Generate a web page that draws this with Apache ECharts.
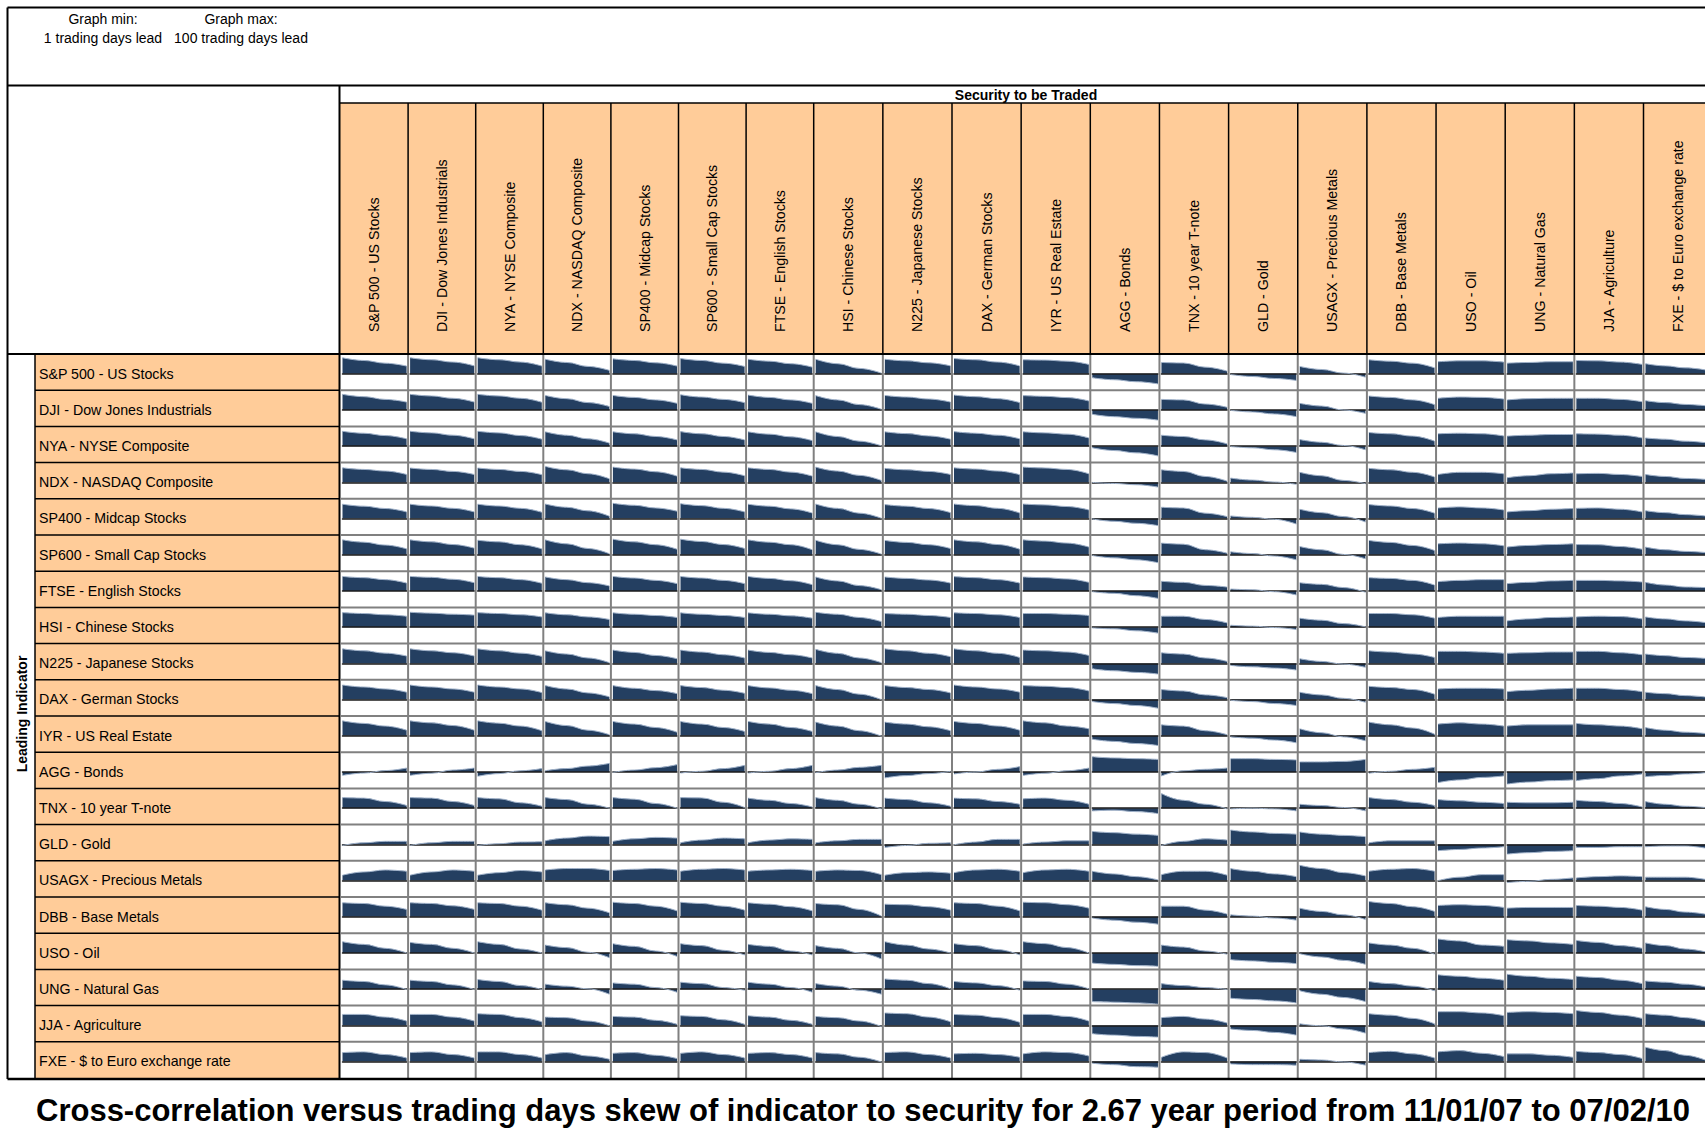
<!DOCTYPE html>
<html>
<head>
<meta charset="utf-8">
<title>Cross-correlation matrix</title>
<script src="https://cdn.jsdelivr.net/npm/echarts@6/dist/echarts.min.js"></script>
<style>
  html, body { margin: 0; padding: 0; background: #fff; }
  #box { width: 1705px; height: 1137px; }
</style>
</head>
<body>
<div id="box"></div>
<script>
// lead (trading days) at which each correlation was read
var lags = [1, 34, 67, 100];

var securities = ['S&P 500 - US Stocks', 'DJI - Dow Jones Industrials', 'NYA - NYSE Composite', 'NDX - NASDAQ Composite',
  'SP400 - Midcap Stocks', 'SP600 - Small Cap Stocks', 'FTSE - English Stocks', 'HSI - Chinese Stocks',
  'N225 - Japanese Stocks', 'DAX - German Stocks', 'IYR - US Real Estate', 'AGG - Bonds', 'TNX - 10 year T-note',
  'GLD - Gold', 'USAGX - Precious Metals', 'DBB - Base Metals', 'USO - Oil', 'UNG - Natural Gas',
  'JJA - Agriculture', 'FXE - $ to Euro exchange rate'];
var indicators = securities.slice();

// one row per leading indicator, one cell per traded security: correlation at each lag
var rowSPX = [[.89,.74,.59,.43],[.89,.78,.65,.44],[.89,.78,.65,.43],[.81,.63,.41,.19],[.83,.74,.61,.43],[.85,.74,.59,.41],[.81,.70,.56,.37],
  [.81,.56,.30,.04],[.81,.72,.61,.44],[.85,.78,.65,.44],[.78,.76,.70,.52],[-.22,-.33,-.44,-.56],[.63,.60,.37,.15],[-.04,-.15,-.26,-.37],
  [.41,.24,.04,-.19],[.78,.70,.59,.33],[.67,.72,.72,.65],[.59,.63,.67,.67],[.74,.72,.65,.52],[.56,.44,.33,.22]];
var rowDJI = [[.87,.74,.59,.44],[.87,.78,.65,.44],[.87,.78,.65,.43],[.81,.63,.41,.19],[.81,.70,.56,.37],[.85,.72,.59,.41],[.83,.70,.56,.37],
  [.80,.56,.30,.04],[.81,.72,.61,.44],[.83,.74,.63,.41],[.80,.76,.69,.50],[-.24,-.37,-.46,-.56],[.59,.56,.33,.15],[-.02,-.11,-.22,-.37],
  [.37,.22,0,-.19],[.78,.70,.56,.30],[.65,.72,.70,.61],[.56,.63,.65,.65],[.65,.65,.59,.46],[.52,.41,.31,.24]];
var rowNYA = [[.83,.72,.59,.41],[.83,.74,.61,.41],[.83,.74,.59,.39],[.80,.61,.41,.17],[.80,.69,.54,.35],[.81,.69,.54,.35],[.80,.67,.52,.31],
  [.80,.54,.28,.02],[.80,.70,.57,.39],[.81,.72,.61,.41],[.80,.74,.67,.46],[-.09,-.24,-.37,-.54],[.61,.54,.35,.13],[-.02,-.09,-.20,-.35],
  [.37,.22,.04,-.20],[.76,.69,.56,.28],[.69,.72,.69,.57],[.56,.61,.65,.65],[.69,.67,.61,.46],[.46,.39,.28,.20]];
var rowNDX = [[.81,.72,.63,.44],[.80,.72,.61,.44],[.80,.72,.61,.43],[.89,.70,.48,.20],[.85,.74,.59,.35],[.81,.72,.57,.37],[.81,.72,.57,.35],
  [.85,.63,.39,.11],[.78,.70,.61,.44],[.81,.74,.63,.43],[.85,.80,.72,.48],[0,-.06,-.13,-.26],[.70,.61,.33,.07],[.24,.13,.02,-.11],
  [.56,.37,.11,-.07],[.78,.70,.56,.30],[.44,.56,.56,.48],[.26,.37,.48,.52],[.48,.50,.44,.33],[.44,.33,.22,.17]];
var rowSP400 = [[.80,.69,.56,.37],[.80,.70,.57,.37],[.80,.70,.57,.35],[.81,.63,.43,.13],[.85,.74,.59,.41],[.83,.72,.57,.37],[.80,.69,.54,.31],
  [.81,.57,.30,.02],[.78,.69,.56,.33],[.81,.72,.57,.31],[.81,.76,.67,.48],[-.02,-.15,-.26,-.39],[.63,.59,.30,.11],[.15,.07,-.04,-.30],
  [.52,.33,.11,-.19],[.78,.70,.56,.30],[.59,.65,.59,.48],[.37,.44,.52,.56],[.57,.59,.52,.37],[.44,.33,.22,.15]];
var rowSP600 = [[.83,.70,.54,.33],[.83,.72,.57,.37],[.81,.72,.56,.33],[.83,.61,.35,.06],[.87,.72,.56,.31],[.87,.74,.57,.35],[.83,.70,.56,.28],
  [.81,.56,.30,.04],[.80,.69,.56,.35],[.83,.72,.57,.31],[.83,.76,.65,.43],[-.04,-.17,-.28,-.44],[.65,.59,.28,.09],[.17,.07,-.07,-.28],
  [.46,.28,.02,-.22],[.80,.69,.52,.24],[.61,.65,.61,.50],[.43,.52,.57,.61],[.57,.56,.46,.31],[.43,.28,.19,.13]];
var rowFTSE = [[.81,.74,.63,.44],[.81,.76,.65,.46],[.81,.74,.63,.43],[.78,.63,.46,.28],[.81,.72,.59,.41],[.81,.72,.59,.41],[.81,.70,.57,.35],
  [.78,.56,.30,.07],[.78,.70,.61,.44],[.80,.74,.63,.44],[.78,.74,.67,.48],[-.04,-.13,-.26,-.41],[.54,.48,.31,.22],[.11,.07,-.04,-.22],
  [.46,.37,.19,-.07],[.74,.70,.59,.33],[.52,.59,.63,.63],[.41,.48,.56,.59],[.59,.59,.56,.50],[.48,.33,.22,.19]];
var rowHSI = [[.81,.76,.69,.61],[.83,.78,.72,.67],[.81,.76,.69,.57],[.80,.69,.57,.43],[.80,.72,.65,.54],[.80,.72,.65,.54],[.80,.72,.63,.50],
  [.83,.72,.54,.31],[.76,.72,.65,.54],[.80,.76,.69,.54],[.76,.76,.72,.65],[-.04,-.09,-.20,-.33],[.61,.61,.43,.24],[.11,.06,-.02,-.13],
  [.50,.39,.20,.02],[.76,.76,.69,.50],[.54,.61,.61,.61],[.35,.46,.54,.57],[.57,.61,.59,.46],[.57,.46,.35,.26]];
var rowN225 = [[.81,.70,.57,.41],[.81,.70,.59,.41],[.81,.70,.57,.39],[.70,.52,.30,.04],[.74,.61,.44,.26],[.74,.63,.48,.30],[.74,.61,.48,.30],
  [.78,.56,.30,.04],[.81,.70,.56,.37],[.81,.70,.56,.33],[.74,.70,.63,.44],[-.30,-.41,-.50,-.59],[.59,.52,.30,.11],[-.11,-.19,-.26,-.37],
  [.26,.11,-.04,-.22],[.70,.63,.52,.33],[.67,.67,.63,.56],[.56,.59,.63,.63],[.67,.67,.59,.48],[.52,.43,.33,.28]];
var rowDAX = [[.81,.70,.59,.41],[.81,.70,.59,.41],[.81,.70,.59,.39],[.78,.59,.37,.15],[.78,.63,.50,.33],[.78,.67,.52,.35],[.78,.65,.52,.33],
  [.78,.56,.30,0],[.78,.67,.56,.37],[.81,.70,.59,.41],[.78,.74,.67,.48],[-.11,-.22,-.33,-.48],[.56,.48,.26,.11],[-.04,-.11,-.22,-.33],
  [.41,.26,.07,-.15],[.74,.67,.56,.30],[.59,.63,.63,.59],[.44,.52,.59,.63],[.63,.63,.56,.44],[.41,.33,.22,.15]];
var rowIYR = [[.83,.69,.54,.31],[.83,.72,.57,.31],[.83,.70,.54,.28],[.80,.57,.31,.06],[.80,.65,.46,.20],[.80,.65,.46,.24],[.80,.65,.46,.24],
  [.76,.54,.28,-.02],[.76,.65,.50,.28],[.80,.69,.54,.31],[.83,.72,.54,.39],[-.19,-.31,-.43,-.54],[.61,.54,.28,.06],[-.06,-.13,-.24,-.39],
  [.39,.17,-.06,-.28],[.76,.61,.43,.09],[.65,.72,.65,.54],[.54,.61,.61,.61],[.69,.61,.54,.39],[.46,.31,.20,.13]];
var rowAGG = [[-.19,-.06,.08,.22],[-.19,-.07,.11,.22],[-.24,-.09,.07,.19],[.07,.19,.33,.48],[-.02,.11,.24,.41],[-.06,.04,.19,.37],[-.06,.04,.19,.37],
  [-.04,.11,.26,.37],[-.33,-.20,-.09,.04],[-.11,0,.15,.30],[-.19,-.07,.07,.22],[.85,.78,.74,.70],[-.22,.07,.15,.22],[.74,.74,.70,.67],
  [.56,.56,.59,.70],[-.07,.04,.15,.26],[-.59,-.44,-.30,-.22],[-.67,-.56,-.48,-.44],[-.48,-.37,-.22,-.11],[-.26,-.19,-.11,-.04]];
var rowTNX = [[.59,.56,.37,.15],[.59,.56,.37,.15],[.59,.52,.30,.11],[.59,.48,.22,0],[.59,.50,.26,0],[.59,.57,.33,.04],[.56,.44,.26,.07],
  [.59,.44,.22,-.04],[.56,.48,.30,.11],[.56,.52,.37,.22],[.52,.56,.44,.22],[-.15,-.11,-.19,-.30],[.81,.44,.22,-.04],[-.04,0,-.04,-.15],
  [.22,.15,.04,-.15],[.59,.48,.33,.15],[.48,.41,.33,.26],[.33,.30,.30,.33],[.44,.37,.26,.07],[.37,.22,.11,.04]];
var rowGLD = [[-.06,.09,.17,.17],[-.06,.09,.17,.17],[-.06,.04,.13,.15],[.20,.35,.46,.43],[.17,.31,.39,.35],[.09,.24,.35,.31],[.09,.24,.31,.28],
  [.09,.20,.28,.28],[-.17,-.06,.06,.09],[-.02,.13,.28,.28],[.02,.13,.20,.20],[.72,.65,.57,.50],[-.06,.17,.31,.24],[.80,.69,.61,.57],
  [.69,.57,.50,.43],[.09,.20,.20,.20],[-.35,-.28,-.20,-.13],[-.54,-.46,-.39,-.35],[-.17,-.17,-.13,-.13],[-.13,-.09,-.09,-.20]];
var rowUSAGX = [[.30,.48,.59,.52],[.30,.48,.59,.52],[.30,.44,.56,.48],[.59,.67,.67,.56],[.56,.63,.67,.59],[.52,.63,.67,.59],[.52,.59,.63,.56],
  [.52,.59,.56,.33],[.30,.44,.48,.41],[.44,.59,.63,.52],[.44,.59,.63,.52],[.52,.37,.22,.04],[.33,.52,.52,.30],[.67,.52,.37,.22],
  [.85,.67,.44,.26],[.52,.63,.67,.52],[0,.19,.33,.33],[-.11,-.04,.07,.15],[.15,.22,.26,.22],[.19,.19,.19,.07]];
var rowDBB = [[.78,.74,.59,.41],[.78,.74,.61,.41],[.78,.74,.59,.37],[.78,.67,.48,.22],[.81,.74,.59,.33],[.81,.74,.59,.37],[.78,.70,.56,.33],
  [.74,.67,.41,.04],[.70,.67,.56,.37],[.78,.74,.59,.33],[.81,.78,.67,.48],[-.07,-.19,-.30,-.41],[.59,.59,.37,.15],[.11,.04,-.07,-.19],
  [.48,.30,.11,-.15],[.85,.74,.56,.30],[.63,.67,.63,.52],[.48,.52,.52,.52],[.63,.59,.52,.37],[.56,.41,.26,.15]];
var rowUSO = [[.63,.48,.26,0],[.59,.48,.26,0],[.63,.48,.22,0],[.44,.30,.04,-.26],[.52,.37,.11,-.19],[.52,.41,.15,-.11],[.48,.37,.11,-.11],
  [.41,.26,0,-.33],[.63,.44,.22,0],[.52,.41,.19,-.11],[.63,.52,.30,0],[-.56,-.63,-.70,-.74],[.44,.33,.11,-.07],[-.37,-.44,-.52,-.59],
  [-.04,-.22,-.41,-.63],[.56,.44,.26,-.07],[.78,.67,.44,.37],[.74,.67,.56,.48],[.70,.59,.41,.26],[.56,.41,.22,.07]];
var rowUNG = [[.50,.43,.24,-.02],[.50,.43,.24,-.02],[.54,.43,.20,-.02],[.28,.17,.02,-.28],[.35,.28,.09,-.17],[.39,.31,.09,-.06],[.39,.28,.09,-.17],
  [.31,.17,-.06,-.28],[.57,.50,.31,.02],[.43,.35,.20,-.06],[.46,.43,.28,.02],[-.69,-.72,-.76,-.83],[.31,.20,.09,-.02],[-.50,-.57,-.65,-.76],
  [-.09,-.28,-.46,-.69],[.43,.31,.17,-.09],[.80,.72,.61,.50],[.83,.72,.61,.54],[.72,.65,.50,.31],[.46,.39,.28,.13]];
var rowJJA = [[.61,.61,.46,.24],[.61,.61,.46,.24],[.65,.61,.43,.20],[.46,.43,.24,-.02],[.50,.46,.28,.06],[.54,.50,.31,.06],[.54,.46,.28,.06],
  [.50,.43,.24,-.06],[.69,.65,.46,.20],[.61,.57,.43,.17],[.61,.61,.50,.24],[-.46,-.54,-.61,-.65],[.43,.50,.35,.13],[-.20,-.28,-.39,-.54],
  [.09,-.02,-.20,-.43],[.65,.57,.39,.09],[.76,.76,.69,.54],[.72,.76,.72,.65],[.83,.72,.57,.39],[.65,.57,.43,.24]];
var rowFXE = [[.50,.54,.39,.20],[.50,.54,.39,.20],[.54,.54,.39,.20],[.39,.50,.31,.13],[.46,.50,.35,.17],[.46,.54,.39,.20],[.46,.50,.39,.20],
  [.50,.43,.24,-.02],[.50,.54,.39,.20],[.43,.46,.39,.24],[.43,.54,.50,.31],[-.09,-.17,-.28,-.31],[.24,.54,.50,.20],[-.13,-.17,-.17,-.20],
  [.13,.09,-.02,-.20],[.50,.57,.43,.20],[.54,.61,.46,.28],[.43,.43,.35,.24],[.57,.50,.39,.17],[.80,.61,.35,.09]];

var rows = [rowSPX, rowDJI, rowNYA, rowNDX, rowSP400, rowSP600, rowFTSE, rowHSI, rowN225, rowDAX,
  rowIYR, rowAGG, rowTNX, rowGLD, rowUSAGX, rowDBB, rowUSO, rowUNG, rowJJA, rowFXE];

var FONT = '"Liberation Sans", Arial, sans-serif';
var ORANGE = '#ffcc99';

// column edges (first seven columns are a bit narrower, as in the sheet)
var colLeft = [], colW = [];
var cx = 340.5;
for (var c = 0; c < 20; c++) {
  var w = c < 7 ? 67.6 : 69.15;
  colLeft.push(cx); colW.push(w); cx += w;
}
function rowTop(r) { return 354 + r * 36.2; }

var myChart = echarts.init(document.getElementById('box'), null, { renderer: 'svg' });

var grids = [], xAxes = [], yAxes = [], series = [];
rows.forEach(function (cells, r) {
  cells.forEach(function (vals, c) {
    var i = grids.length;
    grids.push({ left: colLeft[c] + 2, top: rowTop(r) + 1.8, width: colW[c] - 3.5, height: 36 });
    xAxes.push({
      gridIndex: i, type: 'value', min: 1, max: 100, z: 3,
      axisLine: { onZero: true, lineStyle: { color: '#1b1b1b', width: 1.5 } },
      axisTick: { show: false }, axisLabel: { show: false }, splitLine: { show: false }
    });
    yAxes.push({ gridIndex: i, type: 'value', min: -1, max: 1, show: false });
    series.push({
      type: 'line', xAxisIndex: i, yAxisIndex: i,
      data: vals.map(function (v, k) { return [lags[k], v]; }),
      smooth: 0.4, smoothMonotone: 'x', symbol: 'none', silent: true,
      lineStyle: { color: '#9fb1c9', width: 1 },
      areaStyle: { color: '#243f61', opacity: 1 }
    });
  });
});

// table frame, fills and labels
var g = [];
function line(x1, y1, x2, y2, color, w) {
  g.push({ type: 'line', z: 10, silent: true, shape: { x1: x1, y1: y1, x2: x2, y2: y2 }, style: { stroke: color, lineWidth: w } });
}
function rect(x, y, w, h, fill) {
  g.push({ type: 'rect', z: 0, silent: true, shape: { x: x, y: y, width: w, height: h }, style: { fill: fill } });
}
function text(x, y, str, font, align, rot) {
  g.push({ type: 'text', z: 11, silent: true, x: x, y: y, rotation: rot || 0,
    style: { text: str, font: font, fill: '#000', align: align, verticalAlign: 'middle' } });
}

rect(340, 103, 1365, 251, ORANGE);
rect(35, 354, 304.5, 724, ORANGE);

line(7.5, 7.5, 1705, 7.5, '#000', 2);
line(7.5, 7.5, 7.5, 1079, '#000', 2);
line(7.5, 85.5, 1705, 85.5, '#000', 2);
line(339.5, 85.5, 339.5, 1079, '#000', 2);
line(339.5, 103, 1705, 103, '#000', 1.5);
for (var k = 1; k < 20; k++) {
  line(colLeft[k], 103, colLeft[k], 354, '#000', 1.5);
  line(colLeft[k], 354, colLeft[k], 1078, '#808080', 2);
  line(340, rowTop(k), 1705, rowTop(k), '#808080', 2);
  line(35, rowTop(k), 339.5, rowTop(k), '#000', 1.5);
}
line(7.5, 354, 1705, 354, '#000', 2);
line(35, 354, 35, 1079, '#000', 1.5);
line(7.5, 1079, 1705, 1079, '#000', 2.5);

text(103, 18.5, 'Graph min:', '14px ' + FONT, 'center');
text(103, 38, '1 trading days lead', '14px ' + FONT, 'center');
text(241, 18.5, 'Graph max:', '14px ' + FONT, 'center');
text(241, 38, '100 trading days lead', '14px ' + FONT, 'center');
text(1026, 95, 'Security to be Traded', 'bold 14px ' + FONT, 'center');
text(22, 714, 'Leading Indicator', 'bold 14px ' + FONT, 'center', Math.PI / 2);

securities.forEach(function (s, c) {
  text(colLeft[c] + colW[c] / 2, 332, s, '14.2px ' + FONT, 'left', Math.PI / 2);
});
indicators.forEach(function (s, r) {
  text(39, rowTop(r) + 19.5, s, '14.2px ' + FONT, 'left');
});
text(36, 1110, 'Cross-correlation versus trading days skew of indicator to security for 2.67 year period from 11/01/07 to 07/02/10',
  'bold 31px ' + FONT, 'left');

var option = {
  animation: false,
  backgroundColor: '#fff',
  grid: grids,
  xAxis: xAxes,
  yAxis: yAxes,
  series: series,
  graphic: { elements: g }
};
myChart.setOption(option);
</script>
</body>
</html>
